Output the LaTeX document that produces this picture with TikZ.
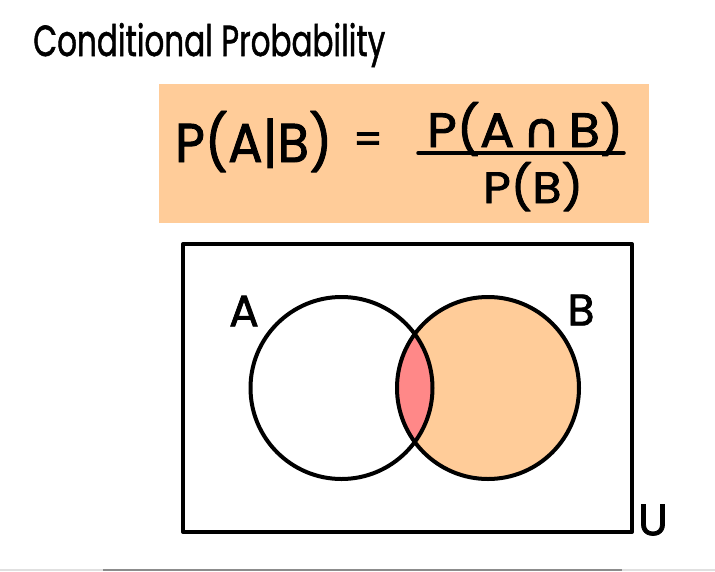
\documentclass[tikz,border=0pt]{standalone}
\usepackage{fontspec}
\usepackage{graphicx}
\newfontfamily\hand{Poppins}[FakeBold=1.8]
\newfontfamily\handt{Poppins}[FakeBold=1.4]
\newfontfamily\symf{DejaVu Sans}[FakeBold=1.8]
\definecolor{peach}{RGB}{255,204,153}
\definecolor{rosy}{RGB}{255,136,136}
\tikzset{
  ink/.style={line width=4pt, draw=black},
  lbl/.style={inner sep=0pt, font=\hand\fontsize{44}{44}\selectfont},
}
\begin{document}
\begin{tikzpicture}[x=1pt,y=-1pt]
\useasboundingbox (0,0) rectangle (715,571);
\fill[white] (0,0) rectangle (715,571);
% title
\node[anchor=base west, inner sep=0pt] (title) at (33,56) {\resizebox{352pt}{33pt}{\handt Conditional Probability}};
% formula box
\node[fill=peach, anchor=north west, minimum width=490pt, minimum height=139pt, inner sep=0pt] (fbox) at (159,84) {};
\node[anchor=base west, inner sep=0pt] (lhs) at (175,162) {\resizebox{157pt}{51pt}{\hand P(A|B)}};
\node[anchor=center, inner sep=0pt] (eq) at (368,143) {\resizebox{30pt}{!}{\hand =}};
\node[anchor=base west, inner sep=0pt] (num) at (427,147) {\resizebox{196pt}{45pt}{\hand P(A\,{\symf ∩}\,B)}};
\node[anchor=base west, inner sep=0pt] (den) at (483,203) {\resizebox{100pt}{41pt}{\hand P(B)}};
\coordinate (fl) at (418,153);
\coordinate (fr) at (624,153);
\draw[line width=3.5pt, line cap=round] (fl) -- (fr);
% venn
\coordinate (cA) at (341.5,388);
\coordinate (cB) at (488,388);
\fill[peach] (cB) circle (91);
\begin{scope}
  \clip (cA) circle (91);
  \fill[rosy] (cB) circle (91);
\end{scope}
\draw[ink] (cA) circle (91);
\draw[ink] (cB) circle (91);
\draw[ink, line join=round] (183,244) rectangle (632,532);
\node[lbl] (la) at (244,311) {A};
\node[lbl] (lb) at (581,310) {B};
\node[lbl] (lu) at (653,520) {U};
% bottom scrollbar line
\coordinate (sl) at (0,570);
\coordinate (sr) at (715,570);
\coordinate (tl) at (103,570);
\coordinate (tr) at (622,570);
\draw[black!12, line width=1.5pt] (sl) -- (sr);
\draw[black!45, line width=1.5pt] (tl) -- (tr);
\end{tikzpicture}
\end{document}
